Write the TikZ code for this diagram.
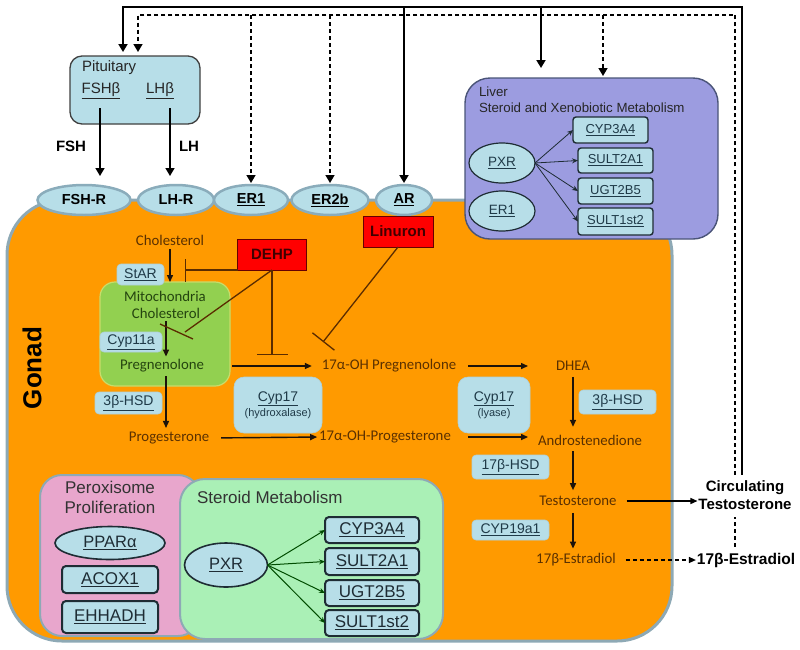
\documentclass[tikz,border=0pt]{standalone}
\usepackage{fontspec}
\setmainfont{Liberation Sans}
\newfontfamily\calfont{Carlito}
\usetikzlibrary{arrows.meta,shapes.geometric}
\definecolor{lblue}{HTML}{B7DEE8}
\definecolor{recb}{HTML}{8AACBB}
\definecolor{gorange}{HTML}{FF9A00}
\definecolor{gonadb}{HTML}{8EA9B5}
\definecolor{liverf}{HTML}{9C9CE0}
\definecolor{liverb}{HTML}{4A5478}
\definecolor{pinkf}{HTML}{E8A6CC}
\definecolor{mintf}{HTML}{AAF0B6}
\definecolor{mitof}{HTML}{92D050}
\definecolor{mitob}{HTML}{C9DC6A}
\definecolor{tbrown}{HTML}{5A3000}
\definecolor{tgreen}{HTML}{24440F}
\definecolor{ibrown}{HTML}{5A2C00}
\definecolor{darkb}{HTML}{1E2C34}
\definecolor{enzt}{HTML}{1F3A48}
\newcommand\myfs[2]{\fontsize{#1}{#2}\selectfont}
\tikzset{
  every node/.style={inner sep=0pt, outer sep=0pt},
  recep/.style={ellipse, draw=recb, line width=2.5, fill=lblue, minimum height=30, font=\bfseries\myfs{14.5}{17}},
  metab/.style={font=\calfont\myfs{14.8}{17}, text=tbrown},
  mitot/.style={font=\calfont\myfs{14.8}{17}, text=tgreen},
  enz/.style={fill=lblue, draw=lblue!85!gray, line width=0.6, rounded corners=4, font=\myfs{14}{16}, text=enzt},
  lbox/.style={fill=lblue, draw=darkb, line width=1.4, rounded corners=3, minimum width=75, font=\myfs{13}{15}, text=enzt},
  bbox/.style={fill=lblue, draw=darkb, line width=2, rounded corners=4, font=\myfs{17}{20}, text=darkb},
  bell/.style={ellipse, fill=lblue, draw=darkb, line width=1.6, font=\myfs{16.5}{19}, text=darkb},
  toxic/.style={fill=red, draw=red!40!black, line width=0.8, font=\bfseries\myfs{15}{18}, text=red!25!black},
  tip/.style={-{Triangle[length=8,width=9]}},
  fbs/.style={draw=black, line width=1.8},
  fbd/.style={draw=black, line width=1.6, dash pattern=on 4 off 3},
  parr/.style={draw=black!85!brown, line width=1.4, -{Triangle[length=7,width=6]}},
  inh/.style={draw=ibrown, line width=1.3},
  thinarr/.style={draw=darkb, line width=0.8, -{Stealth[length=6,width=5]}},
}
\begin{document}
\begin{tikzpicture}[x=1pt,y=-1pt]
\useasboundingbox (0,0) rectangle (800,649);

% gonad
\node[draw=gonadb, line width=3, fill=gorange, rounded corners=55, minimum width=665, minimum height=441] (gonad) at (339.5,420.5) {};
\node[rotate=90, font=\bfseries\myfs{26}{30}] (gonadlbl) at (32,368) {Gonad};

% liver
\node[draw=liverb, line width=1.4, fill=liverf, rounded corners=25, minimum width=253, minimum height=161] (liver) at (591.5,158.5) {};
\node[anchor=west, font=\myfs{13.3}{16}, text=black!85] (liv1) at (479,92) {Liver};
\node[anchor=west, font=\myfs{13.3}{16}, text=black!85] (liv2) at (479,108) {Steroid and Xenobiotic Metabolism};
\node[ellipse, fill=lblue, draw=darkb, line width=1.2, minimum width=66, minimum height=40, font=\myfs{13.5}{15}, text=enzt] (lpxr) at (502,163) {\underline{PXR}};
\node[ellipse, fill=lblue, draw=darkb, line width=1.2, minimum width=66, minimum height=40, font=\myfs{13.5}{15}, text=enzt] (ler1) at (502,211) {\underline{ER1}};
\node[lbox, minimum height=26] (lc1) at (610.5,130) {\underline{CYP3A4}};
\node[lbox, minimum height=25] (lc2) at (615.5,160.5) {\underline{SULT2A1}};
\node[lbox, minimum height=26] (lc3) at (615.5,191) {\underline{UGT2B5}};
\node[lbox, minimum height=27] (lc4) at (615.5,221.5) {\underline{SULT1st2}};
\foreach \t in {lc1,lc2,lc3,lc4} \draw[thinarr] (lpxr.east) -- (\t.west);

% pituitary
\node[draw=black!75, line width=1.3, fill=lblue, rounded corners=12, minimum width=130, minimum height=68] (pit) at (135,90) {};
\node[anchor=west, font=\myfs{15}{18}, text=black!85] (pitl) at (82,68) {Pituitary};
\node[font=\myfs{15}{18}, text=black!85] (fshb) at (101,91) {\underline{FSHβ}};
\node[font=\myfs{15}{18}, text=black!85] (lhb) at (160,91) {\underline{LHβ}};

% receptors
\node[recep, minimum width=93] (fshr) at (84,200) {FSH-R};
\node[recep, minimum width=76] (lhr) at (176,200) {LH-R};
\node[recep, minimum width=74] (er1) at (251,200) {\underline{ER1}};
\node[recep, minimum width=77] (er2) at (330,200) {\underline{ER2b}};
\node[recep, minimum width=56] (ar) at (404,200) {\underline{AR}};

% FSH / LH arrows
\coordinate (fshs) at (100,108);
\coordinate (lhs) at (170,108);
\draw[fbs, line width=1.4, tip, shorten >=9] (fshs) -- (fshs |- fshr.north);
\draw[fbs, line width=1.4, tip, shorten >=9] (lhs) -- (lhs |- lhr.north);
\node[font=\bfseries\myfs{15}{18}] (fshl) at (71,146) {FSH};
\node[font=\bfseries\myfs{15}{18}] (lhl) at (189,146) {LH};

% mitochondria
\node[draw=mitob, line width=1.2, fill=mitof, rounded corners=15, minimum width=130, minimum height=104] (mito) at (165,334) {};
\node[mitot] (mitol) at (165,296) {Mitochondria};
\node[mitot] (mchol) at (166,313) {Cholesterol};
\node[mitot] (preg) at (162,366) {Pregnenolone};

% pathway metabolites
\node[metab] (chol) at (170,240) {Cholesterol};
\node[metab] (prog) at (169,438) {Progesterone};
\node[metab] (ohpreg) at (389,366) {17α-OH Pregnenolone};
\node[metab] (ohprog) at (385,437) {17α-OH-Progesterone};
\node[metab] (dhea) at (573,366) {DHEA};
\node[metab] (andro) at (590,440) {Androstenedione};
\node[metab] (testo) at (578,501) {Testosterone};
\node[metab] (estr) at (576,560) {17β-Estradiol};

% enzymes
\node[enz, minimum width=47, minimum height=21] (star) at (140.5,274.5) {\underline{StAR}};
\node[enz, minimum width=62, minimum height=20] (cyp11) at (131,342) {\underline{Cyp11a}};
\node[enz, minimum width=67, minimum height=22] (hsd1) at (128.5,403) {\underline{3β-HSD}};
\node[enz, rounded corners=10, minimum width=88, minimum height=56, align=center] (cyph) at (278,405) {\underline{Cyp17}\\[-1pt]{\myfs{11}{13}(hydroxalase)}};
\node[enz, rounded corners=10, minimum width=72, minimum height=56, align=center] (cypl) at (494,405) {\underline{Cyp17}\\[-1pt]{\myfs{11}{13}(lyase)}};
\node[enz, minimum width=77, minimum height=24] (hsd2) at (617.5,402) {\underline{3β-HSD}};
\node[enz, minimum width=77, minimum height=24] (hsd17) at (510.5,467) {\underline{17β-HSD}};
\node[enz, minimum width=77, minimum height=20] (cyp19) at (510.5,530) {\underline{CYP19a1}};

% pathway arrows
\draw[parr, shorten <=4] (chol.south) -- (chol.south |- mito.north);
\draw[parr, shorten <=3, shorten >=3] (mchol.south) -- (mchol.south |- preg.north);
\draw[parr, shorten <=4, shorten >=4] (preg.south -| mchol.south) -- (prog.north -| mchol.south);
\draw[parr, shorten <=2, shorten >=10] (mito.east |- preg) -- (ohpreg.west);
\draw[parr, shorten <=12, shorten >=2] (prog.east) -- (ohprog.west);
\draw[parr, shorten <=12, shorten >=28] (ohpreg.east) -- (dhea.west);
\draw[parr, shorten <=17, shorten >=10] (ohprog.east) -- (ohprog.east -| andro.west);
\draw[parr, shorten <=6, shorten >=8] (dhea.south) -- (dhea.south |- andro.north);
\draw[parr, shorten <=6, shorten >=6] (andro.south -| dhea.south) -- (testo.north -| dhea.south);
\draw[parr, shorten <=7, shorten >=5] (testo.south -| dhea.south) -- (estr.north -| dhea.south);

% toxicants
\node[toxic, minimum width=69, minimum height=31] (dehp) at (272,254.5) {DEHP};
\node[toxic, minimum width=70, minimum height=31] (lin) at (398,231.5) {Linuron};
\coordinate (i1) at (185,270);
\coordinate (i2) at (272,355);
\coordinate (i3) at (185,332);
\coordinate (i3a) at (160,324);
\coordinate (i3b) at (193,339);
\coordinate (i4) at (323,342);
\draw[inh, -{Bar[width=23]}] (dehp.south west) -- (i1);
\draw[inh, -{Bar[width=31]}] (dehp.south) -- (i2);
\draw[inh] (dehp.south) -- (i3);
\draw[inh] (i3a) -- (i3b);
\draw[inh, -{Bar[width=28]}] (lin.south) -- (i4);

% bottom boxes
\node[draw=gonadb, line width=2, fill=pinkf, rounded corners=22, minimum width=160, minimum height=161] (perox) at (120,555.5) {};
\node[draw=gonadb, line width=2, fill=mintf, rounded corners=25, minimum width=263, minimum height=160] (smet) at (311.5,559) {};
\node[align=center, font=\myfs{17}{20}, text=black!80] (peroxl) at (110,497) {Peroxisome\\Proliferation};
\node[anchor=west, font=\myfs{17}{20}, text=black!80] (smetl) at (197,497) {Steroid Metabolism};
\node[bell, minimum width=110, minimum height=33] (ppar) at (110,543) {\underline{PPARα}};
\node[bbox, minimum width=96, minimum height=27] (acox) at (110,579.5) {\underline{ACOX1}};
\node[bbox, minimum width=96, minimum height=32] (ehh) at (110,617) {\underline{EHHADH}};
\node[bell, minimum width=83, minimum height=44] (gpxr) at (226,565) {\underline{PXR}};
\node[bbox, minimum width=94, minimum height=26] (g1) at (372,530) {\underline{CYP3A4}};
\node[bbox, minimum width=94, minimum height=27] (g2) at (372,561.5) {\underline{SULT2A1}};
\node[bbox, minimum width=94, minimum height=26] (g3) at (372,593) {\underline{UGT2B5}};
\node[bbox, minimum width=94, minimum height=26] (g4) at (372,623) {\underline{SULT1st2}};
\foreach \t in {g1,g2,g3,g4} \draw[thinarr, draw=black!70!green, line width=1] (gpxr.east) -- (\t.west);

% circulating
\node[align=center, font=\bfseries\myfs{15}{18}] (circ) at (745,495) {Circulating\\Testosterone};
\node[font=\bfseries\myfs{15.5}{18}] (estr2) at (746,560) {17β-Estradiol};
\draw[fbs, line width=1.4, -{Triangle[length=7,width=6]}, shorten <=10, shorten >=1] (testo.east) -- (testo.east -| circ.west);
\draw[fbd, line width=1.3, -{Triangle[length=7,width=6]}, shorten <=10, shorten >=1] (estr.east) -- (estr.east -| estr2.west);

% feedback loops
\coordinate (sTop) at (742,7);
\coordinate (dTop) at (735,15);
\coordinate (pS) at (123,7);
\coordinate (pD) at (138,15);
\coordinate (lS) at (541,7);
\coordinate (lD) at (603,15);
\draw[fbs, tip, shorten <=6, shorten >=4] (circ.north -| sTop) -- (sTop) -- (pS) -- (pS |- pit.north);
\draw[fbs, tip, shorten >=2] (ar.north |- sTop) -- (ar.north);
\draw[fbs, tip, shorten >=10] (lS) -- (lS |- liver.north);
\draw[fbd, shorten <=6, shorten >=7] (estr2.north -| dTop) -- (circ.south -| dTop);
\draw[fbd, tip, shorten <=6, shorten >=4] (circ.north -| dTop) -- (dTop) -- (pD) -- (pD |- pit.north);
\draw[fbd, tip, shorten >=2] (er1.north |- dTop) -- (er1.north);
\draw[fbd, tip, shorten >=2] (er2.north |- dTop) -- (er2.north);
\draw[fbd, tip, shorten >=2] (lD) -- (lD |- liver.north);
\end{tikzpicture}
\end{document}
